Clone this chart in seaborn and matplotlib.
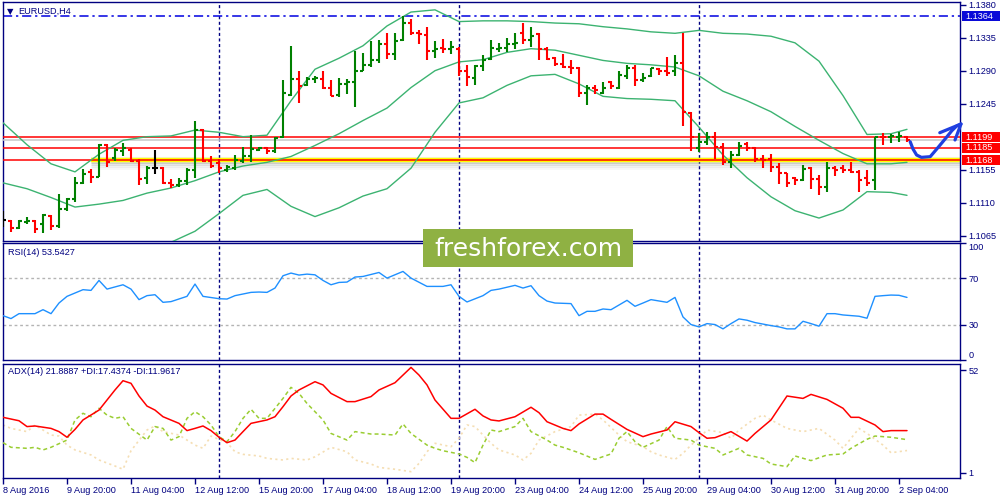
import matplotlib
matplotlib.use("Agg")
import matplotlib.pyplot as plt
import matplotlib.transforms as mtransforms
from matplotlib.patches import Rectangle
import numpy as np
import pandas as pd
import seaborn as sns

# ---------------- data ----------------
bar_open = [1.1086, 1.1085, 1.1075, 1.1084, 1.1085, 1.1081, 1.1092, 1.1078, 1.1101, 1.1115,
            1.1137, 1.1152, 1.1145, 1.1189, 1.1171, 1.1181, 1.1182, 1.1167, 1.1143, 1.1157,
            1.1157, 1.1137, 1.1134, 1.1139, 1.1154, 1.1209, 1.1167, 1.1164, 1.1155, 1.1157,
            1.1167, 1.1174, 1.1182, 1.1185, 1.1181, 1.1199, 1.1257, 1.1278, 1.1270, 1.1278,
            1.1279, 1.1266, 1.1257, 1.1272, 1.1275, 1.1290, 1.1298, 1.1304, 1.1327, 1.1313,
            1.1332, 1.1355, 1.1342, 1.1339, 1.1317, 1.1321, 1.1319, 1.1320, 1.1289, 1.1280,
            1.1296, 1.1306, 1.1319, 1.1321, 1.1326, 1.1341, 1.1332, 1.1340, 1.1319, 1.1307,
            1.1299, 1.1295, 1.1294, 1.1259, 1.1267, 1.1260, 1.1274, 1.1267, 1.1283, 1.1293,
            1.1277, 1.1283, 1.1292, 1.1289, 1.1289, 1.1301, 1.1232, 1.1185, 1.1193, 1.1200,
            1.1186, 1.1166, 1.1175, 1.1190, 1.1185, 1.1169, 1.1169, 1.1159, 1.1150, 1.1143,
            1.1141, 1.1157, 1.1142, 1.1131, 1.1157, 1.1157, 1.1154, 1.1152, 1.1144, 1.1141,
            1.1200, 1.1199, 1.1200, 1.1200]
bar_high = [1.1098, 1.1086, 1.1087, 1.1090, 1.1086, 1.1095, 1.1093, 1.1122, 1.1117, 1.1145,
            1.1156, 1.1156, 1.1190, 1.1190, 1.1184, 1.1192, 1.1184, 1.1169, 1.1160, 1.1182,
            1.1158, 1.1142, 1.1143, 1.1157, 1.1221, 1.1210, 1.1173, 1.1169, 1.1161, 1.1175,
            1.1186, 1.1202, 1.1186, 1.1186, 1.1199, 1.1277, 1.1324, 1.1289, 1.1281, 1.1283,
            1.1290, 1.1277, 1.1280, 1.1278, 1.1317, 1.1314, 1.1330, 1.1332, 1.1341, 1.1341,
            1.1364, 1.1360, 1.1346, 1.1350, 1.1331, 1.1333, 1.1331, 1.1322, 1.1298, 1.1298,
            1.1311, 1.1332, 1.1328, 1.1334, 1.1341, 1.1355, 1.1350, 1.1341, 1.1322, 1.1309,
            1.1313, 1.1305, 1.1295, 1.1270, 1.1270, 1.1275, 1.1276, 1.1290, 1.1298, 1.1298,
            1.1287, 1.1293, 1.1293, 1.1308, 1.1311, 1.1341, 1.1234, 1.1205, 1.1207, 1.1207,
            1.1191, 1.1180, 1.1193, 1.1193, 1.1186, 1.1175, 1.1177, 1.1164, 1.1151, 1.1145,
            1.1161, 1.1159, 1.1148, 1.1166, 1.1160, 1.1161, 1.1166, 1.1154, 1.1155, 1.1200,
            1.1205, 1.1204, 1.1207, 1.1201]
bar_low = [1.1077, 1.1070, 1.1074, 1.1081, 1.1069, 1.1069, 1.1073, 1.1076, 1.1099, 1.1111,
           1.1136, 1.1137, 1.1145, 1.1158, 1.1167, 1.1174, 1.1166, 1.1134, 1.1135, 1.1149,
           1.1135, 1.1130, 1.1132, 1.1134, 1.1143, 1.1166, 1.1157, 1.1151, 1.1152, 1.1155,
           1.1164, 1.1166, 1.1180, 1.1177, 1.1178, 1.1198, 1.1255, 1.1246, 1.1269, 1.1273,
           1.1265, 1.1255, 1.1254, 1.1258, 1.1240, 1.1289, 1.1295, 1.1301, 1.1306, 1.1305,
           1.1330, 1.1339, 1.1327, 1.1304, 1.1307, 1.1314, 1.1313, 1.1283, 1.1269, 1.1270,
           1.1290, 1.1305, 1.1316, 1.1315, 1.1320, 1.1326, 1.1322, 1.1304, 1.1304, 1.1296,
           1.1293, 1.1285, 1.1254, 1.1243, 1.1258, 1.1258, 1.1265, 1.1265, 1.1279, 1.1269,
           1.1274, 1.1281, 1.1284, 1.1283, 1.1283, 1.1214, 1.1180, 1.1179, 1.1189, 1.1169,
           1.1161, 1.1157, 1.1173, 1.1180, 1.1166, 1.1157, 1.1152, 1.1135, 1.1131, 1.1134,
           1.1139, 1.1128, 1.1120, 1.1125, 1.1146, 1.1150, 1.1150, 1.1125, 1.1133, 1.1127,
           1.1189, 1.1191, 1.1193, 1.1193]
bar_close = [1.1086, 1.1075, 1.1085, 1.1085, 1.1074, 1.1093, 1.1078, 1.1101, 1.1115, 1.1137,
             1.1149, 1.1145, 1.1189, 1.1166, 1.1182, 1.1184, 1.1167, 1.1142, 1.1157, 1.1157,
             1.1137, 1.1134, 1.1139, 1.1154, 1.1209, 1.1167, 1.1160, 1.1157, 1.1158, 1.1168,
             1.1174, 1.1183, 1.1185, 1.1180, 1.1198, 1.1259, 1.1278, 1.1269, 1.1278, 1.1280,
             1.1266, 1.1256, 1.1272, 1.1274, 1.1289, 1.1298, 1.1305, 1.1327, 1.1313, 1.1331,
             1.1355, 1.1342, 1.1340, 1.1317, 1.1319, 1.1320, 1.1323, 1.1290, 1.1281, 1.1296,
             1.1304, 1.1321, 1.1321, 1.1327, 1.1328, 1.1332, 1.1337, 1.1319, 1.1306, 1.1299,
             1.1295, 1.1294, 1.1259, 1.1267, 1.1264, 1.1267, 1.1269, 1.1284, 1.1293, 1.1277,
             1.1280, 1.1293, 1.1289, 1.1287, 1.1301, 1.1234, 1.1200, 1.1193, 1.1200, 1.1186,
             1.1166, 1.1175, 1.1187, 1.1184, 1.1169, 1.1168, 1.1159, 1.1150, 1.1137, 1.1141,
             1.1156, 1.1142, 1.1131, 1.1157, 1.1154, 1.1154, 1.1152, 1.1141, 1.1137, 1.1199,
             1.1199, 1.1201, 1.1201, 1.1195]

band_idx = [0, 3, 6, 9, 12, 15, 18, 21, 24, 27, 30, 33, 36, 39, 42, 45, 48, 51, 54, 57,
            60, 63, 66, 69, 72, 75, 78, 81, 84, 87, 90, 93, 96, 99, 102, 105, 108, 111, 113]
band_upper = [1.1219, 1.1189, 1.1163, 1.1152, 1.1176, 1.1195, 1.1200, 1.1201, 1.1209, 1.1206,
              1.1200, 1.1202, 1.1249, 1.1292, 1.1307, 1.1324, 1.1351, 1.1370, 1.1373, 1.1357,
              1.1358, 1.1358, 1.1357, 1.1355, 1.1354, 1.1350, 1.1347, 1.1343, 1.1341, 1.1345,
              1.1341, 1.1340, 1.1337, 1.1328, 1.1303, 1.1256, 1.1203, 1.1204, 1.1210]
band_middle = [1.1137, 1.1129, 1.1117, 1.1104, 1.1108, 1.1113, 1.1123, 1.1130, 1.1140, 1.1152,
               1.1160, 1.1165, 1.1173, 1.1188, 1.1204, 1.1222, 1.1239, 1.1267, 1.1290, 1.1302,
               1.1305, 1.1315, 1.1320, 1.1318, 1.1311, 1.1304, 1.1300, 1.1298, 1.1295, 1.1283,
               1.1262, 1.1249, 1.1234, 1.1214, 1.1195, 1.1177, 1.1163, 1.1163, 1.1165]
lower_idx = [21, 24, 27, 30, 33, 36, 39, 42, 45, 48, 51, 54, 57, 60, 63, 66, 69, 72, 75, 78,
             81, 84, 87, 90, 93, 96, 99, 102, 105, 108, 111, 113]
band_lower = [1.1056, 1.1071, 1.1095, 1.1120, 1.1128, 1.1105, 1.1091, 1.1103, 1.1119, 1.1129,
              1.1157, 1.1206, 1.1246, 1.1253, 1.1270, 1.1283, 1.1285, 1.1272, 1.1255, 1.1252,
              1.1251, 1.1249, 1.1213, 1.1175, 1.1144, 1.1118, 1.1099, 1.1089, 1.1100, 1.1125,
              1.1124, 1.1120]

rsi_idx = [0, 1, 2, 4, 5, 6, 7, 8, 10, 11, 12, 13, 15, 16, 17, 18, 19, 20, 21, 23,
           24, 25, 27, 28, 29, 31, 32, 33, 34, 35, 36, 37, 38, 39, 40, 41, 42, 43, 44, 45,
           47, 48, 50, 51, 53, 55, 56, 57, 58, 60, 61, 62, 64, 65, 66, 67, 68, 69, 71, 72,
           73, 74, 75, 76, 78, 79, 80, 81, 83, 84, 85, 86, 87, 88, 89, 90, 91, 92, 93, 94,
           96, 97, 98, 99, 100, 101, 102, 103, 104, 105, 107, 108, 109, 110, 111, 112, 113]
rsi_val = [37.9, 35.4, 39.6, 39.6, 43.0, 39.6, 48.7, 54.4, 60.1, 59.5, 68.0, 60.6, 64.3, 60.6, 51.6, 55.0, 55.8, 49.3, 49.9, 54.4,
           64.9, 54.4, 52.4, 52.1, 55.0, 57.8, 58.1, 57.8, 61.5, 72.0, 74.3, 72.6, 73.4, 72.8, 68.0, 64.3, 66.3, 66.6, 70.9, 71.4,
           74.8, 70.0, 75.7, 70.0, 62.9, 62.9, 64.3, 54.4, 49.6, 55.0, 59.5, 60.6, 63.8, 61.5, 63.5, 55.0, 50.4, 48.7, 48.2, 37.9,
           41.6, 41.6, 43.6, 43.0, 51.0, 45.9, 48.7, 51.6, 49.3, 53.5, 36.8, 30.3, 28.3, 31.1, 30.3, 26.6, 31.1, 35.1, 34.0, 32.0,
           29.4, 28.3, 26.6, 26.6, 33.1, 31.1, 28.9, 39.6, 39.6, 38.5, 37.4, 35.7, 54.4, 55.0, 55.5, 55.3, 53.5]

adx_idx = [0, 2, 3, 4, 6, 7, 8, 9, 10, 12, 13, 14, 15, 16, 17, 18, 19, 20, 22, 23,
           24, 25, 26, 27, 28, 29, 30, 31, 33, 34, 35, 36, 37, 39, 40, 41, 43, 44, 46, 47,
           49, 51, 52, 53, 54, 56, 57, 59, 60, 61, 62, 64, 66, 67, 68, 70, 71, 72, 74, 75,
           76, 78, 80, 81, 83, 84, 86, 87, 88, 89, 91, 93, 94, 96, 98, 100, 101, 103, 105, 106,
           107, 109, 110, 111, 113]
adx_val = [28.5, 26.8, 23.9, 24.2, 23.0, 21.4, 18.6, 22.5, 27.2, 32.1, 37.1, 42.1, 46.7, 45.4, 39.1, 34.1, 32.1, 28.8, 25.5, 21.9,
           23.0, 24.2, 21.9, 18.6, 15.9, 17.2, 21.4, 25.5, 27.2, 28.8, 33.8, 39.1, 42.1, 46.2, 44.6, 40.4, 36.3, 36.3, 38.8, 42.1,
           45.7, 53.3, 49.5, 44.6, 37.1, 28.0, 28.0, 32.5, 29.2, 27.2, 26.7, 28.8, 33.5, 30.8, 26.3, 23.0, 21.9, 25.2, 30.1, 30.1,
           27.5, 22.5, 18.9, 20.2, 22.2, 26.3, 23.9, 20.9, 18.1, 18.4, 21.4, 16.7, 20.5, 27.2, 39.1, 37.9, 39.9, 37.4, 33.0, 28.5,
           28.5, 24.7, 21.4, 21.9, 21.9]

pdi_idx = [0, 1, 3, 4, 5, 6, 8, 9, 10, 11, 12, 13, 14, 15, 16, 18, 19, 20, 21, 22,
           23, 24, 25, 26, 27, 28, 29, 30, 31, 32, 33, 35, 36, 37, 38, 40, 41, 43, 44, 46,
           47, 49, 50, 51, 53, 54, 55, 57, 58, 59, 60, 61, 62, 64, 65, 66, 68, 69, 70, 72,
           74, 76, 77, 78, 79, 80, 82, 83, 84, 86, 87, 89, 90, 92, 93, 95, 96, 98, 99, 101,
           103, 105, 106, 108, 109, 111, 113]
pdi_val = [15.9, 13.6, 13.1, 13.6, 12.3, 13.6, 17.2, 27.2, 30.5, 28.8, 33.0, 29.6, 28.0, 28.8, 23.0, 17.2, 23.9, 23.0, 17.2, 18.9,
           28.0, 31.3, 28.8, 24.7, 18.9, 16.4, 21.4, 28.0, 32.5, 28.0, 28.0, 37.9, 43.4, 40.4, 35.4, 27.2, 20.5, 17.2, 21.4, 20.2,
           20.2, 19.7, 25.2, 20.5, 14.7, 13.1, 11.9, 10.3, 8.6, 6.0, 14.7, 22.2, 21.4, 23.9, 28.0, 21.4, 17.2, 14.7, 13.6, 10.9,
           7.6, 10.3, 18.1, 21.4, 16.4, 13.6, 17.2, 23.9, 18.1, 17.2, 14.7, 13.1, 9.8, 13.1, 9.8, 8.1, 5.3, 4.0, 9.3, 7.0,
           9.8, 10.3, 13.1, 17.6, 19.2, 18.6, 17.4]

mdi_idx = [0, 1, 3, 4, 6, 7, 8, 9, 11, 12, 14, 15, 16, 18, 19, 20, 22, 23, 24, 25,
           26, 28, 29, 30, 32, 33, 35, 36, 38, 39, 41, 43, 44, 46, 47, 49, 51, 52, 53, 54,
           56, 57, 58, 59, 60, 61, 62, 64, 65, 66, 67, 69, 71, 72, 74, 75, 77, 78, 80, 81,
           82, 84, 85, 86, 87, 88, 90, 91, 92, 94, 95, 96, 98, 100, 102, 104, 105, 107, 108, 110,
           111, 113]
mdi_val = [24.7, 23.0, 21.4, 24.7, 19.7, 19.2, 14.7, 12.3, 9.8, 7.3, 4.3, 2.7, 11.9, 22.2, 24.2, 21.4, 19.7, 17.2, 14.7, 13.1,
           19.2, 15.9, 11.4, 10.1, 9.3, 8.1, 7.3, 8.1, 7.3, 8.9, 13.6, 11.4, 7.3, 5.3, 3.6, 2.7, 1.5, 5.6, 11.4, 15.6,
           13.9, 18.1, 24.7, 23.9, 19.7, 15.6, 12.3, 9.8, 7.3, 10.6, 17.2, 21.4, 23.9, 29.6, 30.1, 27.2, 19.7, 16.4, 13.9, 11.4,
           9.8, 7.6, 10.6, 14.7, 18.1, 22.2, 20.9, 18.1, 22.2, 28.0, 29.6, 27.2, 23.0, 21.4, 23.0, 17.2, 13.1, 23.0, 20.5, 14.7,
           10.9, 12.0]

time_labels = ["8 Aug 2016", "9 Aug 20:00", "11 Aug 04:00", "12 Aug 12:00", "15 Aug 20:00",
               "17 Aug 04:00", "18 Aug 12:00", "19 Aug 20:00", "23 Aug 04:00", "24 Aug 12:00",
               "25 Aug 20:00", "29 Aug 04:00", "30 Aug 12:00", "31 Aug 20:00", "2 Sep 04:00"]
price_ticks = [1.1065, 1.1110, 1.1155, 1.1245, 1.1290, 1.1335, 1.1380]
level_prices = [1.1199, 1.1185, 1.1168]
support_price = 1.1168
support_start_idx = 11
high_price = 1.1364
bid_price = 1.1195
week_start_idx = [27, 57, 87]
rsi_levels = [30, 70]
rsi_ticks = [0, 30, 70, 100]
adx_ticks = [1, 52]
arrow_idx = [113.4, 113.75, 114.2, 114.8, 115.9, 116.9, 118.0, 118.6, 119.2, 119.75]
arrow_price = [1.11931, 1.11832, 1.11750, 1.11718, 1.11727, 1.11855, 1.12000, 1.12081, 1.12145, 1.12173]
arrow_head_idx = [117.1, 119.75, 119.0]
arrow_head_price = [1.12054, 1.12173, 1.11955]

# ---------------- styling ----------------
sns.set_theme(style="white")
plt.rcParams['font.family'] = ['Liberation Sans', 'DejaVu Sans']
NAVY = '#000080'
FS = 6.6

fig = plt.figure(figsize=(10, 5), dpi=100)
fig.patch.set_facecolor('white')


def px_axes(left, top, right, bottom):
    return fig.add_axes([left / 1000, 1 - bottom / 500, (right - left) / 1000, (bottom - top) / 500])


ax_main = px_axes(2.5, 2, 960.5, 241)
ax_rsi = px_axes(2.5, 243, 960.5, 360)
ax_adx = px_axes(2.5, 364, 960.5, 478)
XLIM = (-0.0625, 119.6875)

for ax in (ax_main, ax_rsi, ax_adx):
    ax.set_facecolor('white')
    for s in ax.spines.values():
        s.set_color(NAVY)
        s.set_linewidth(1.0)
        s.set_visible(True)
    for w in week_start_idx:
        ax.axvline(w, color=NAVY, lw=1.0, linestyle=(0, (2.2, 1.8)), zorder=1)

# ---------------- main price panel ----------------
n = len(bar_open)
idx = np.arange(n)
df = pd.DataFrame({'i': idx, 'o': bar_open, 'h': bar_high, 'l': bar_low, 'c': bar_close})
colors = np.where(df.c > df.o, '#008000', np.where(df.c < df.o, '#ff0000', '#000000'))

# horizontal objects
ax_main.axhline(high_price, color='#0000e0', lw=1.1, linestyle=(0, (6, 2.5, 1.5, 2.5)), zorder=2)
for k, off in enumerate([0.00030, 0.00055, 0.00080, 0.00105]):
    ax_main.hlines(support_price - off, support_start_idx, XLIM[1], color='0.45',
                   lw=2.0, alpha=[0.28, 0.18, 0.10, 0.05][k], zorder=2)
ax_main.hlines(support_price + 0.00028, support_start_idx, XLIM[1], color='0.6', lw=1.5, alpha=0.12, zorder=2)
ax_main.hlines(support_price, support_start_idx, XLIM[1], color='#ffff00', lw=3.2, zorder=2.5)
ax_main.axhline(bid_price, color='#c8c8c8', lw=1.1, zorder=2.6)
for p in level_prices:
    ax_main.axhline(p, color='#ff0000', lw=1.1, zorder=2.7)

# Bollinger bands
band_kw = dict(color='#3cb371', lw=1.0, estimator=None, errorbar=None, zorder=3)
sns.lineplot(x=band_idx, y=band_upper, ax=ax_main, **band_kw)
sns.lineplot(x=band_idx, y=band_middle, ax=ax_main, **band_kw)
sns.lineplot(x=lower_idx, y=band_lower, ax=ax_main, **band_kw)

# OHLC bars
ax_main.vlines(df.i, df.l, df.h, colors=colors, lw=1.5, zorder=4)
ax_main.hlines(df.o, df.i - 0.38, df.i, colors=colors, lw=1.5, zorder=4)
ax_main.hlines(df.c, df.i, df.i + 0.38, colors=colors, lw=1.5, zorder=4)

# hand-drawn arrow
ax_main.plot(arrow_idx, arrow_price, color='#1f3fe0', lw=2.3, solid_capstyle='round',
             solid_joinstyle='round', clip_on=False, zorder=6)
ax_main.plot(arrow_head_idx, arrow_head_price, color='#1f3fe0', lw=2.3, solid_capstyle='round',
             solid_joinstyle='round', clip_on=False, zorder=6)

ax_main.set_xlim(*XLIM)
ax_main.set_ylim(1.10577, 1.13837)
ax_main.set_xticks([])
ax_main.yaxis.tick_right()
ax_main.set_yticks(price_ticks)
ax_main.set_yticklabels([f"{v:.4f}" for v in price_ticks])
ax_main.tick_params(axis='y', right=True, left=False, length=4, width=1, color=NAVY,
                    labelsize=FS, labelcolor=NAVY, pad=2, direction='out')
ax_main.set_xlabel('')
ax_main.set_ylabel('')

trans = mtransforms.blended_transform_factory(ax_main.transAxes, ax_main.transData)
box_h = 0.00136
for p, fc in [(high_price, '#0a0ad8')] + [(p, '#ff0000') for p in level_prices]:
    ax_main.add_patch(Rectangle((1.0015, p - box_h / 2), 0.0405, box_h, transform=trans,
                                facecolor=fc, edgecolor='none', clip_on=False, zorder=7))
    ax_main.text(1.0055, p, f"{p:.4f}", transform=trans, ha='left', va='center',
                 color='white', fontsize=FS, clip_on=False, zorder=8)

ax_main.text(0.0078, 0.962, "\u25bc", transform=ax_main.transAxes, fontsize=6,
             family='DejaVu Sans', color=NAVY, ha='center', va='center')
ax_main.text(0.0165, 0.963, "EURUSD,H4", transform=ax_main.transAxes, fontsize=FS,
             color=NAVY, ha='left', va='center')

# ---------------- RSI panel ----------------
for lv in rsi_levels:
    ax_rsi.axhline(lv, color='#b4b4b4', lw=1.0, linestyle=(0, (2, 2)), zorder=1)
sns.lineplot(x=rsi_idx, y=rsi_val, ax=ax_rsi, color='#1e90ff', lw=1.0, estimator=None,
             errorbar=None, zorder=3)
ax_rsi.set_xlim(*XLIM)
ax_rsi.set_ylim(0, 100)
ax_rsi.set_xticks([])
ax_rsi.yaxis.tick_right()
ax_rsi.set_yticks(rsi_ticks)
ax_rsi.set_yticklabels([str(v) for v in rsi_ticks])
ax_rsi.tick_params(axis='y', right=True, left=False, length=4, width=1, color=NAVY,
                   labelsize=FS, labelcolor=NAVY, pad=2, direction='out')
tl = ax_rsi.get_yticklabels()
tl[0].set_verticalalignment('bottom')
tl[-1].set_verticalalignment('top')
ax_rsi.set_xlabel('')
ax_rsi.set_ylabel('')
ax_rsi.text(0.0053, 0.923, f"RSI(14) {53.5427:.4f}", transform=ax_rsi.transAxes,
            fontsize=FS, color=NAVY, ha='left', va='center')

# ---------------- ADX panel ----------------
sns.lineplot(x=mdi_idx, y=mdi_val, ax=ax_adx, color='#f5deb3', lw=1.2,
             linestyle=(0, (1.3, 2.0)), estimator=None, errorbar=None, zorder=2)
sns.lineplot(x=pdi_idx, y=pdi_val, ax=ax_adx, color='#9acd32', lw=1.1,
             linestyle=(0, (2.6, 2.0)), estimator=None, errorbar=None, zorder=3)
sns.lineplot(x=adx_idx, y=adx_val, ax=ax_adx, color='#ff0000', lw=1.1, estimator=None,
             errorbar=None, zorder=4)
ax_adx.set_xlim(*XLIM)
ax_adx.set_ylim(-1.65, 55.0)
ax_adx.yaxis.tick_right()
ax_adx.set_yticks(adx_ticks)
ax_adx.set_yticklabels([str(v) for v in adx_ticks])
ax_adx.tick_params(axis='y', right=True, left=False, length=4, width=1, color=NAVY,
                   labelsize=FS, labelcolor=NAVY, pad=2, direction='out')
ax_adx.set_xticks(np.arange(0, n, 8))
ax_adx.set_xticklabels(time_labels)
ax_adx.tick_params(axis='x', bottom=True, length=4, width=1, color=NAVY,
                   labelsize=FS, labelcolor=NAVY, pad=1.5, direction='out')
for lbl in ax_adx.get_xticklabels():
    lbl.set_horizontalalignment('left')
ax_adx.set_xlabel('')
ax_adx.set_ylabel('')
ax_adx.text(0.0053, 0.93, "ADX(14) 21.8887 +DI:17.4374 -DI:11.9617", transform=ax_adx.transAxes,
            fontsize=FS, color=NAVY, ha='left', va='center')

# ---------------- watermark ----------------
fig.patches.append(Rectangle((423 / 1000, 1 - 267 / 500), 210 / 1000, 38 / 500,
                             transform=fig.transFigure, facecolor='#8fb143',
                             edgecolor='none', zorder=10))
fig.text(528 / 1000, 1 - 249 / 500, "freshforex.com", family='DejaVu Sans', fontsize=18,
         color='white', ha='center', va='center', zorder=11)

fig.savefig("out.png", dpi=100, facecolor='white')
